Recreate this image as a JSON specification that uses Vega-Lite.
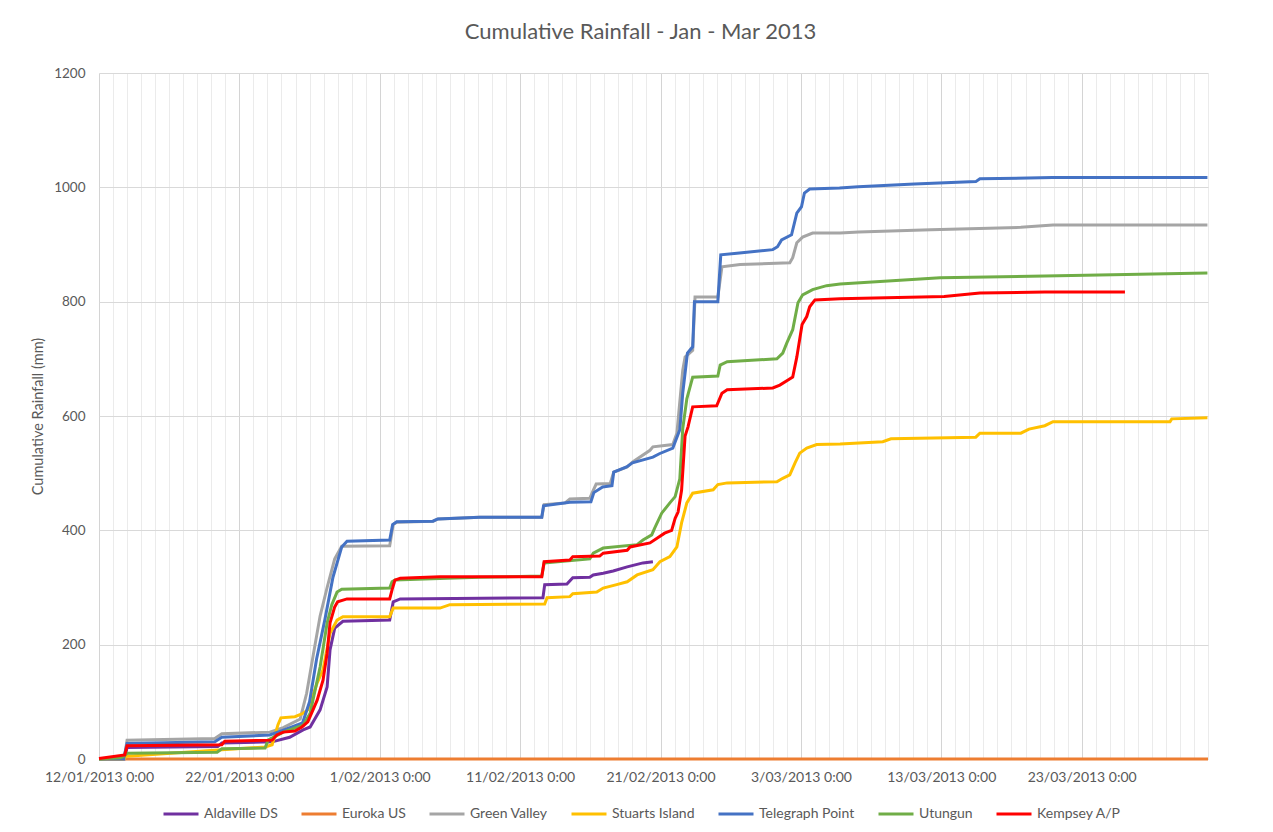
{
  "$schema": "https://vega.github.io/schema/vega-lite/v6.json",
  "width": 1109,
  "height": 686,
  "autosize": "none",
  "padding": {"left": 99, "top": 73, "right": 65, "bottom": 73},
  "background": "white",
  "title": {"text": "Cumulative Rainfall - Jan - Mar 2013", "fontSize": 22, "font": "Lato", "fontWeight": "normal", "color": "#595959", "offset": 22, "dx": -13},
  "config": {"view": {"stroke": null}, "font": "Lato"},
  "data": {"values": [
    {"station":"Aldaville DS","time":"2013-01-12T00:00","rain":0},
    {"station":"Aldaville DS","time":"2013-01-13T19:00","rain":0},
    {"station":"Aldaville DS","time":"2013-01-14T00:00","rain":20},
    {"station":"Aldaville DS","time":"2013-01-20T11:00","rain":22},
    {"station":"Aldaville DS","time":"2013-01-20T18:00","rain":28},
    {"station":"Aldaville DS","time":"2013-01-24T08:00","rain":30},
    {"station":"Aldaville DS","time":"2013-01-25T14:00","rain":38},
    {"station":"Aldaville DS","time":"2013-01-26T13:00","rain":51},
    {"station":"Aldaville DS","time":"2013-01-27T01:00","rain":56},
    {"station":"Aldaville DS","time":"2013-01-27T18:00","rain":86},
    {"station":"Aldaville DS","time":"2013-01-28T06:00","rain":126},
    {"station":"Aldaville DS","time":"2013-01-28T11:00","rain":191},
    {"station":"Aldaville DS","time":"2013-01-28T19:00","rain":229},
    {"station":"Aldaville DS","time":"2013-01-29T09:00","rain":241},
    {"station":"Aldaville DS","time":"2013-02-01T17:00","rain":243},
    {"station":"Aldaville DS","time":"2013-02-01T23:00","rain":275},
    {"station":"Aldaville DS","time":"2013-02-02T11:00","rain":280},
    {"station":"Aldaville DS","time":"2013-02-12T15:00","rain":282},
    {"station":"Aldaville DS","time":"2013-02-12T18:00","rain":305},
    {"station":"Aldaville DS","time":"2013-02-14T08:00","rain":306},
    {"station":"Aldaville DS","time":"2013-02-14T18:00","rain":317},
    {"station":"Aldaville DS","time":"2013-02-15T23:00","rain":318},
    {"station":"Aldaville DS","time":"2013-02-16T05:00","rain":322},
    {"station":"Aldaville DS","time":"2013-02-16T22:00","rain":325},
    {"station":"Aldaville DS","time":"2013-02-17T15:00","rain":329},
    {"station":"Aldaville DS","time":"2013-02-18T15:00","rain":336},
    {"station":"Aldaville DS","time":"2013-02-19T18:00","rain":343},
    {"station":"Aldaville DS","time":"2013-02-20T11:00","rain":345},
    {"station":"Euroka US","time":"2013-01-12T00:00","rain":0},
    {"station":"Euroka US","time":"2013-04-01T00:00","rain":0},
    {"station":"Green Valley","time":"2013-01-12T00:00","rain":0},
    {"station":"Green Valley","time":"2013-01-13T19:00","rain":0},
    {"station":"Green Valley","time":"2013-01-14T00:00","rain":33},
    {"station":"Green Valley","time":"2013-01-20T06:00","rain":36},
    {"station":"Green Valley","time":"2013-01-20T18:00","rain":44},
    {"station":"Green Valley","time":"2013-01-24T04:00","rain":47},
    {"station":"Green Valley","time":"2013-01-25T03:00","rain":55},
    {"station":"Green Valley","time":"2013-01-26T08:00","rain":70},
    {"station":"Green Valley","time":"2013-01-26T19:00","rain":115},
    {"station":"Green Valley","time":"2013-01-27T06:00","rain":180},
    {"station":"Green Valley","time":"2013-01-27T18:00","rain":250},
    {"station":"Green Valley","time":"2013-01-28T06:00","rain":300},
    {"station":"Green Valley","time":"2013-01-28T19:00","rain":350},
    {"station":"Green Valley","time":"2013-01-29T07:00","rain":372},
    {"station":"Green Valley","time":"2013-02-01T17:00","rain":373},
    {"station":"Green Valley","time":"2013-02-01T23:00","rain":410},
    {"station":"Green Valley","time":"2013-02-02T05:00","rain":414},
    {"station":"Green Valley","time":"2013-02-04T19:00","rain":416},
    {"station":"Green Valley","time":"2013-02-05T04:00","rain":420},
    {"station":"Green Valley","time":"2013-02-08T03:00","rain":423},
    {"station":"Green Valley","time":"2013-02-12T13:00","rain":423},
    {"station":"Green Valley","time":"2013-02-12T17:00","rain":445},
    {"station":"Green Valley","time":"2013-02-14T05:00","rain":448},
    {"station":"Green Valley","time":"2013-02-14T13:00","rain":455},
    {"station":"Green Valley","time":"2013-02-15T23:00","rain":456},
    {"station":"Green Valley","time":"2013-02-16T05:00","rain":470},
    {"station":"Green Valley","time":"2013-02-16T10:00","rain":481},
    {"station":"Green Valley","time":"2013-02-17T10:00","rain":482},
    {"station":"Green Valley","time":"2013-02-17T16:00","rain":502},
    {"station":"Green Valley","time":"2013-02-18T15:00","rain":511},
    {"station":"Green Valley","time":"2013-02-19T01:00","rain":520},
    {"station":"Green Valley","time":"2013-02-20T06:00","rain":540},
    {"station":"Green Valley","time":"2013-02-20T11:00","rain":546},
    {"station":"Green Valley","time":"2013-02-21T21:00","rain":550},
    {"station":"Green Valley","time":"2013-02-22T04:00","rain":570},
    {"station":"Green Valley","time":"2013-02-22T14:00","rain":680},
    {"station":"Green Valley","time":"2013-02-22T18:00","rain":703},
    {"station":"Green Valley","time":"2013-02-23T07:00","rain":715},
    {"station":"Green Valley","time":"2013-02-23T11:00","rain":808},
    {"station":"Green Valley","time":"2013-02-25T02:00","rain":808},
    {"station":"Green Valley","time":"2013-02-25T09:00","rain":861},
    {"station":"Green Valley","time":"2013-02-26T16:00","rain":865},
    {"station":"Green Valley","time":"2013-03-02T05:00","rain":868},
    {"station":"Green Valley","time":"2013-03-02T10:00","rain":877},
    {"station":"Green Valley","time":"2013-03-02T17:00","rain":903},
    {"station":"Green Valley","time":"2013-03-03T03:00","rain":913},
    {"station":"Green Valley","time":"2013-03-03T20:00","rain":920},
    {"station":"Green Valley","time":"2013-03-05T19:00","rain":920},
    {"station":"Green Valley","time":"2013-03-07T03:00","rain":922},
    {"station":"Green Valley","time":"2013-03-12T06:00","rain":926},
    {"station":"Green Valley","time":"2013-03-18T16:00","rain":930},
    {"station":"Green Valley","time":"2013-03-20T23:00","rain":934},
    {"station":"Green Valley","time":"2013-03-31T23:00","rain":934},
    {"station":"Stuarts Island","time":"2013-01-12T00:00","rain":0},
    {"station":"Stuarts Island","time":"2013-01-13T17:00","rain":0},
    {"station":"Stuarts Island","time":"2013-01-14T00:00","rain":5},
    {"station":"Stuarts Island","time":"2013-01-20T18:00","rain":16},
    {"station":"Stuarts Island","time":"2013-01-23T20:00","rain":21},
    {"station":"Stuarts Island","time":"2013-01-24T08:00","rain":25},
    {"station":"Stuarts Island","time":"2013-01-24T18:00","rain":60},
    {"station":"Stuarts Island","time":"2013-01-24T23:00","rain":72},
    {"station":"Stuarts Island","time":"2013-01-25T23:00","rain":74},
    {"station":"Stuarts Island","time":"2013-01-26T13:00","rain":80},
    {"station":"Stuarts Island","time":"2013-01-26T21:00","rain":86},
    {"station":"Stuarts Island","time":"2013-01-27T13:00","rain":133},
    {"station":"Stuarts Island","time":"2013-01-27T23:00","rain":156},
    {"station":"Stuarts Island","time":"2013-01-28T11:00","rain":220},
    {"station":"Stuarts Island","time":"2013-01-28T23:00","rain":243},
    {"station":"Stuarts Island","time":"2013-01-29T09:00","rain":249},
    {"station":"Stuarts Island","time":"2013-02-01T17:00","rain":249},
    {"station":"Stuarts Island","time":"2013-02-01T23:00","rain":264},
    {"station":"Stuarts Island","time":"2013-02-05T07:00","rain":264},
    {"station":"Stuarts Island","time":"2013-02-06T00:00","rain":270},
    {"station":"Stuarts Island","time":"2013-02-12T18:00","rain":271},
    {"station":"Stuarts Island","time":"2013-02-12T22:00","rain":282},
    {"station":"Stuarts Island","time":"2013-02-14T13:00","rain":284},
    {"station":"Stuarts Island","time":"2013-02-14T18:00","rain":289},
    {"station":"Stuarts Island","time":"2013-02-16T11:00","rain":292},
    {"station":"Stuarts Island","time":"2013-02-16T22:00","rain":299},
    {"station":"Stuarts Island","time":"2013-02-17T21:00","rain":305},
    {"station":"Stuarts Island","time":"2013-02-18T15:00","rain":310},
    {"station":"Stuarts Island","time":"2013-02-19T08:00","rain":322},
    {"station":"Stuarts Island","time":"2013-02-20T11:00","rain":331},
    {"station":"Stuarts Island","time":"2013-02-20T23:00","rain":345},
    {"station":"Stuarts Island","time":"2013-02-21T16:00","rain":354},
    {"station":"Stuarts Island","time":"2013-02-22T04:00","rain":371},
    {"station":"Stuarts Island","time":"2013-02-22T12:00","rain":413},
    {"station":"Stuarts Island","time":"2013-02-22T21:00","rain":448},
    {"station":"Stuarts Island","time":"2013-02-23T07:00","rain":465},
    {"station":"Stuarts Island","time":"2013-02-24T18:00","rain":471},
    {"station":"Stuarts Island","time":"2013-02-25T02:00","rain":480},
    {"station":"Stuarts Island","time":"2013-02-25T18:00","rain":483},
    {"station":"Stuarts Island","time":"2013-03-01T07:00","rain":485},
    {"station":"Stuarts Island","time":"2013-03-01T17:00","rain":491},
    {"station":"Stuarts Island","time":"2013-03-02T05:00","rain":497},
    {"station":"Stuarts Island","time":"2013-03-02T14:00","rain":518},
    {"station":"Stuarts Island","time":"2013-03-02T22:00","rain":535},
    {"station":"Stuarts Island","time":"2013-03-03T10:00","rain":544},
    {"station":"Stuarts Island","time":"2013-03-04T03:00","rain":550},
    {"station":"Stuarts Island","time":"2013-03-05T19:00","rain":551},
    {"station":"Stuarts Island","time":"2013-03-08T20:00","rain":555},
    {"station":"Stuarts Island","time":"2013-03-09T10:00","rain":560},
    {"station":"Stuarts Island","time":"2013-03-15T11:00","rain":563},
    {"station":"Stuarts Island","time":"2013-03-15T18:00","rain":570},
    {"station":"Stuarts Island","time":"2013-03-18T16:00","rain":570},
    {"station":"Stuarts Island","time":"2013-03-19T06:00","rain":577},
    {"station":"Stuarts Island","time":"2013-03-20T09:00","rain":583},
    {"station":"Stuarts Island","time":"2013-03-20T23:00","rain":590},
    {"station":"Stuarts Island","time":"2013-03-29T07:00","rain":590},
    {"station":"Stuarts Island","time":"2013-03-29T10:00","rain":595},
    {"station":"Stuarts Island","time":"2013-03-31T23:00","rain":597},
    {"station":"Telegraph Point","time":"2013-01-12T00:00","rain":0},
    {"station":"Telegraph Point","time":"2013-01-13T18:00","rain":0},
    {"station":"Telegraph Point","time":"2013-01-14T00:00","rain":27},
    {"station":"Telegraph Point","time":"2013-01-20T06:00","rain":30},
    {"station":"Telegraph Point","time":"2013-01-20T18:00","rain":38},
    {"station":"Telegraph Point","time":"2013-01-24T04:00","rain":42},
    {"station":"Telegraph Point","time":"2013-01-25T02:00","rain":50},
    {"station":"Telegraph Point","time":"2013-01-26T12:00","rain":63},
    {"station":"Telegraph Point","time":"2013-01-27T00:00","rain":100},
    {"station":"Telegraph Point","time":"2013-01-27T12:00","rain":175},
    {"station":"Telegraph Point","time":"2013-01-28T02:00","rain":243},
    {"station":"Telegraph Point","time":"2013-01-28T16:00","rain":318},
    {"station":"Telegraph Point","time":"2013-01-29T07:00","rain":371},
    {"station":"Telegraph Point","time":"2013-01-29T16:00","rain":381},
    {"station":"Telegraph Point","time":"2013-02-01T17:00","rain":383},
    {"station":"Telegraph Point","time":"2013-02-01T22:00","rain":410},
    {"station":"Telegraph Point","time":"2013-02-02T05:00","rain":415},
    {"station":"Telegraph Point","time":"2013-02-04T19:00","rain":416},
    {"station":"Telegraph Point","time":"2013-02-05T03:00","rain":420},
    {"station":"Telegraph Point","time":"2013-02-08T03:00","rain":423},
    {"station":"Telegraph Point","time":"2013-02-12T13:00","rain":423},
    {"station":"Telegraph Point","time":"2013-02-12T16:00","rain":443},
    {"station":"Telegraph Point","time":"2013-02-14T13:00","rain":449},
    {"station":"Telegraph Point","time":"2013-02-16T01:00","rain":450},
    {"station":"Telegraph Point","time":"2013-02-16T06:00","rain":466},
    {"station":"Telegraph Point","time":"2013-02-16T21:00","rain":476},
    {"station":"Telegraph Point","time":"2013-02-17T13:00","rain":478},
    {"station":"Telegraph Point","time":"2013-02-17T16:00","rain":502},
    {"station":"Telegraph Point","time":"2013-02-18T14:00","rain":511},
    {"station":"Telegraph Point","time":"2013-02-19T00:00","rain":518},
    {"station":"Telegraph Point","time":"2013-02-20T11:00","rain":528},
    {"station":"Telegraph Point","time":"2013-02-20T22:00","rain":534},
    {"station":"Telegraph Point","time":"2013-02-21T21:00","rain":544},
    {"station":"Telegraph Point","time":"2013-02-22T09:00","rain":576},
    {"station":"Telegraph Point","time":"2013-02-22T14:00","rain":640},
    {"station":"Telegraph Point","time":"2013-02-22T22:00","rain":710},
    {"station":"Telegraph Point","time":"2013-02-23T07:00","rain":721},
    {"station":"Telegraph Point","time":"2013-02-23T10:00","rain":800},
    {"station":"Telegraph Point","time":"2013-02-25T02:00","rain":800},
    {"station":"Telegraph Point","time":"2013-02-25T07:00","rain":882},
    {"station":"Telegraph Point","time":"2013-02-26T15:00","rain":885},
    {"station":"Telegraph Point","time":"2013-03-01T00:00","rain":891},
    {"station":"Telegraph Point","time":"2013-03-01T08:00","rain":896},
    {"station":"Telegraph Point","time":"2013-03-01T15:00","rain":908},
    {"station":"Telegraph Point","time":"2013-03-02T08:00","rain":917},
    {"station":"Telegraph Point","time":"2013-03-02T17:00","rain":955},
    {"station":"Telegraph Point","time":"2013-03-03T01:00","rain":966},
    {"station":"Telegraph Point","time":"2013-03-03T06:00","rain":990},
    {"station":"Telegraph Point","time":"2013-03-03T15:00","rain":997},
    {"station":"Telegraph Point","time":"2013-03-05T18:00","rain":999},
    {"station":"Telegraph Point","time":"2013-03-07T02:00","rain":1001},
    {"station":"Telegraph Point","time":"2013-03-11T02:00","rain":1006},
    {"station":"Telegraph Point","time":"2013-03-15T11:00","rain":1010},
    {"station":"Telegraph Point","time":"2013-03-15T18:00","rain":1015},
    {"station":"Telegraph Point","time":"2013-03-20T22:00","rain":1017},
    {"station":"Telegraph Point","time":"2013-03-31T23:00","rain":1017},
    {"station":"Utungun","time":"2013-01-12T00:00","rain":0},
    {"station":"Utungun","time":"2013-01-13T12:00","rain":2},
    {"station":"Utungun","time":"2013-01-13T17:00","rain":4},
    {"station":"Utungun","time":"2013-01-14T00:00","rain":10},
    {"station":"Utungun","time":"2013-01-20T10:00","rain":12},
    {"station":"Utungun","time":"2013-01-20T18:00","rain":18},
    {"station":"Utungun","time":"2013-01-23T20:00","rain":19},
    {"station":"Utungun","time":"2013-01-24T01:00","rain":33},
    {"station":"Utungun","time":"2013-01-25T03:00","rain":47},
    {"station":"Utungun","time":"2013-01-26T13:00","rain":59},
    {"station":"Utungun","time":"2013-01-27T01:00","rain":80},
    {"station":"Utungun","time":"2013-01-27T18:00","rain":161},
    {"station":"Utungun","time":"2013-01-28T06:00","rain":238},
    {"station":"Utungun","time":"2013-01-28T14:00","rain":270},
    {"station":"Utungun","time":"2013-01-28T23:00","rain":292},
    {"station":"Utungun","time":"2013-01-29T07:00","rain":297},
    {"station":"Utungun","time":"2013-02-01T17:00","rain":299},
    {"station":"Utungun","time":"2013-02-01T21:00","rain":310},
    {"station":"Utungun","time":"2013-02-02T02:00","rain":313},
    {"station":"Utungun","time":"2013-02-05T19:00","rain":316},
    {"station":"Utungun","time":"2013-02-08T03:00","rain":318},
    {"station":"Utungun","time":"2013-02-12T13:00","rain":320},
    {"station":"Utungun","time":"2013-02-12T17:00","rain":343},
    {"station":"Utungun","time":"2013-02-15T23:00","rain":350},
    {"station":"Utungun","time":"2013-02-16T05:00","rain":360},
    {"station":"Utungun","time":"2013-02-16T22:00","rain":369},
    {"station":"Utungun","time":"2013-02-19T08:00","rain":375},
    {"station":"Utungun","time":"2013-02-19T18:00","rain":383},
    {"station":"Utungun","time":"2013-02-20T09:00","rain":392},
    {"station":"Utungun","time":"2013-02-20T14:00","rain":404},
    {"station":"Utungun","time":"2013-02-21T02:00","rain":430},
    {"station":"Utungun","time":"2013-02-21T16:00","rain":448},
    {"station":"Utungun","time":"2013-02-22T01:00","rain":459},
    {"station":"Utungun","time":"2013-02-22T09:00","rain":490},
    {"station":"Utungun","time":"2013-02-22T14:00","rain":578},
    {"station":"Utungun","time":"2013-02-22T21:00","rain":630},
    {"station":"Utungun","time":"2013-02-23T07:00","rain":668},
    {"station":"Utungun","time":"2013-02-25T02:00","rain":670},
    {"station":"Utungun","time":"2013-02-25T06:00","rain":689},
    {"station":"Utungun","time":"2013-02-25T18:00","rain":695},
    {"station":"Utungun","time":"2013-03-01T07:00","rain":700},
    {"station":"Utungun","time":"2013-03-01T17:00","rain":710},
    {"station":"Utungun","time":"2013-03-02T00:00","rain":728},
    {"station":"Utungun","time":"2013-03-02T10:00","rain":751},
    {"station":"Utungun","time":"2013-03-02T19:00","rain":798},
    {"station":"Utungun","time":"2013-03-03T03:00","rain":812},
    {"station":"Utungun","time":"2013-03-03T20:00","rain":821},
    {"station":"Utungun","time":"2013-03-04T20:00","rain":828},
    {"station":"Utungun","time":"2013-03-05T19:00","rain":831},
    {"station":"Utungun","time":"2013-03-12T22:00","rain":842},
    {"station":"Utungun","time":"2013-03-20T09:00","rain":845},
    {"station":"Utungun","time":"2013-03-31T23:00","rain":850},
    {"station":"Kempsey A/P","time":"2013-01-12T00:00","rain":1},
    {"station":"Kempsey A/P","time":"2013-01-13T20:00","rain":7},
    {"station":"Kempsey A/P","time":"2013-01-14T00:00","rain":23},
    {"station":"Kempsey A/P","time":"2013-01-20T18:00","rain":25},
    {"station":"Kempsey A/P","time":"2013-01-20T23:00","rain":31},
    {"station":"Kempsey A/P","time":"2013-01-24T08:00","rain":33},
    {"station":"Kempsey A/P","time":"2013-01-24T16:00","rain":42},
    {"station":"Kempsey A/P","time":"2013-01-25T03:00","rain":47},
    {"station":"Kempsey A/P","time":"2013-01-25T23:00","rain":49},
    {"station":"Kempsey A/P","time":"2013-01-26T11:00","rain":56},
    {"station":"Kempsey A/P","time":"2013-01-26T21:00","rain":65},
    {"station":"Kempsey A/P","time":"2013-01-27T13:00","rain":103},
    {"station":"Kempsey A/P","time":"2013-01-27T23:00","rain":138},
    {"station":"Kempsey A/P","time":"2013-01-28T06:00","rain":185},
    {"station":"Kempsey A/P","time":"2013-01-28T11:00","rain":238},
    {"station":"Kempsey A/P","time":"2013-01-28T19:00","rain":266},
    {"station":"Kempsey A/P","time":"2013-01-29T00:00","rain":275},
    {"station":"Kempsey A/P","time":"2013-01-29T16:00","rain":280},
    {"station":"Kempsey A/P","time":"2013-02-01T17:00","rain":280},
    {"station":"Kempsey A/P","time":"2013-02-01T21:00","rain":296},
    {"station":"Kempsey A/P","time":"2013-02-02T02:00","rain":313},
    {"station":"Kempsey A/P","time":"2013-02-02T11:00","rain":316},
    {"station":"Kempsey A/P","time":"2013-02-05T07:00","rain":319},
    {"station":"Kempsey A/P","time":"2013-02-12T13:00","rain":319},
    {"station":"Kempsey A/P","time":"2013-02-12T17:00","rain":345},
    {"station":"Kempsey A/P","time":"2013-02-14T13:00","rain":348},
    {"station":"Kempsey A/P","time":"2013-02-14T18:00","rain":354},
    {"station":"Kempsey A/P","time":"2013-02-16T16:00","rain":355},
    {"station":"Kempsey A/P","time":"2013-02-16T22:00","rain":360},
    {"station":"Kempsey A/P","time":"2013-02-18T15:00","rain":365},
    {"station":"Kempsey A/P","time":"2013-02-18T20:00","rain":371},
    {"station":"Kempsey A/P","time":"2013-02-20T06:00","rain":378},
    {"station":"Kempsey A/P","time":"2013-02-20T18:00","rain":386},
    {"station":"Kempsey A/P","time":"2013-02-21T07:00","rain":395},
    {"station":"Kempsey A/P","time":"2013-02-21T19:00","rain":400},
    {"station":"Kempsey A/P","time":"2013-02-22T01:00","rain":421},
    {"station":"Kempsey A/P","time":"2013-02-22T06:00","rain":432},
    {"station":"Kempsey A/P","time":"2013-02-22T12:00","rain":470},
    {"station":"Kempsey A/P","time":"2013-02-22T18:00","rain":565},
    {"station":"Kempsey A/P","time":"2013-02-22T23:00","rain":581},
    {"station":"Kempsey A/P","time":"2013-02-23T07:00","rain":616},
    {"station":"Kempsey A/P","time":"2013-02-25T00:00","rain":618},
    {"station":"Kempsey A/P","time":"2013-02-25T09:00","rain":640},
    {"station":"Kempsey A/P","time":"2013-02-25T18:00","rain":646},
    {"station":"Kempsey A/P","time":"2013-03-01T00:00","rain":649},
    {"station":"Kempsey A/P","time":"2013-03-01T12:00","rain":654},
    {"station":"Kempsey A/P","time":"2013-03-02T02:00","rain":663},
    {"station":"Kempsey A/P","time":"2013-03-02T10:00","rain":668},
    {"station":"Kempsey A/P","time":"2013-03-02T17:00","rain":703},
    {"station":"Kempsey A/P","time":"2013-03-03T02:00","rain":760},
    {"station":"Kempsey A/P","time":"2013-03-03T10:00","rain":774},
    {"station":"Kempsey A/P","time":"2013-03-03T15:00","rain":791},
    {"station":"Kempsey A/P","time":"2013-03-04T00:00","rain":803},
    {"station":"Kempsey A/P","time":"2013-03-05T19:00","rain":805},
    {"station":"Kempsey A/P","time":"2013-03-13T05:00","rain":809},
    {"station":"Kempsey A/P","time":"2013-03-15T18:00","rain":815},
    {"station":"Kempsey A/P","time":"2013-03-20T09:00","rain":817},
    {"station":"Kempsey A/P","time":"2013-03-26T02:00","rain":817}
  ]},
  "layer": [
    {
      "mark": {"type": "point", "opacity": 0},
      "encoding": {
        "x": {"field": "time", "type": "temporal",
          "scale": {"domain": [{"year": 2013, "month": 1, "date": 12}, {"year": 2013, "month": 4, "date": 1}], "nice": false},
          "axis": {"orient": "bottom", "tickCount": {"interval": "day", "step": 1}, "labels": false, "ticks": false, "domain": false, "grid": true, "gridColor": "#EBEBEB", "gridWidth": 1, "title": null}
        }
      }
    },
    {
      "mark": {"type": "line", "interpolate": "linear"},
      "encoding": {
        "x": {"field": "time", "type": "temporal",
          "scale": {"domain": [{"year": 2013, "month": 1, "date": 12}, {"year": 2013, "month": 4, "date": 1}], "nice": false},
          "axis": {
            "orient": "bottom",
            "values": [
              {"year": 2013, "month": 1, "date": 12},
              {"year": 2013, "month": 1, "date": 22},
              {"year": 2013, "month": 2, "date": 1},
              {"year": 2013, "month": 2, "date": 11},
              {"year": 2013, "month": 2, "date": 21},
              {"year": 2013, "month": 3, "date": 3},
              {"year": 2013, "month": 3, "date": 13},
              {"year": 2013, "month": 3, "date": 23}
            ],
            "format": "%-d/%m/%Y 0:00",
            "grid": true, "gridColor": "#D4D4D4", "ticks": false, "domain": false,
            "labelPadding": 11, "labelFontSize": 14, "labelColor": "#595959", "labelOverlap": false, "labelFlush": false,
            "title": null
          }
        },
        "y": {"field": "rain", "type": "quantitative",
          "scale": {"domain": [0, 1200], "nice": false},
          "axis": {
            "values": [0, 200, 400, 600, 800, 1000, 1200],
            "format": "d",
            "grid": true, "gridColor": "#D9D9D9", "ticks": false, "domain": false,
            "labelPadding": 14, "labelFontSize": 13.5, "labelColor": "#595959",
            "title": "Cumulative Rainfall (mm)", "titleFontSize": 14.5, "titleFontWeight": "normal", "titleColor": "#595959",
            "titleX": -61, "titleY": 343, "titleBaseline": "middle"
          }
        },
        "color": {"field": "station", "type": "nominal",
          "scale": {
            "domain": ["Aldaville DS", "Euroka US", "Green Valley", "Stuarts Island", "Telegraph Point", "Utungun", "Kempsey A/P"],
            "range": ["#7030A0", "#ED7D31", "#A5A5A5", "#FFC000", "#4472C4", "#70AD47", "#FF0000"]
          },
          "legend": {
            "orient": "none", "legendX": 63, "legendY": 722, "direction": "horizontal", "title": null,
            "symbolType": "stroke", "symbolSize": 1225, "symbolStrokeWidth": 3,
            "labelFontSize": 14, "labelColor": "#595959", "labelOffset": 4, "columnPadding": 17
          }
        },
        "strokeWidth": {"field": "station", "type": "nominal",
          "scale": {
            "domain": ["Aldaville DS", "Euroka US", "Green Valley", "Stuarts Island", "Telegraph Point", "Utungun", "Kempsey A/P"],
            "range": [3, 3, 3, 3, 3, 3, 3.8]
          },
          "legend": null
        }
      }
    }
  ],
  "resolve": {"axis": {"x": "independent"}}
}
